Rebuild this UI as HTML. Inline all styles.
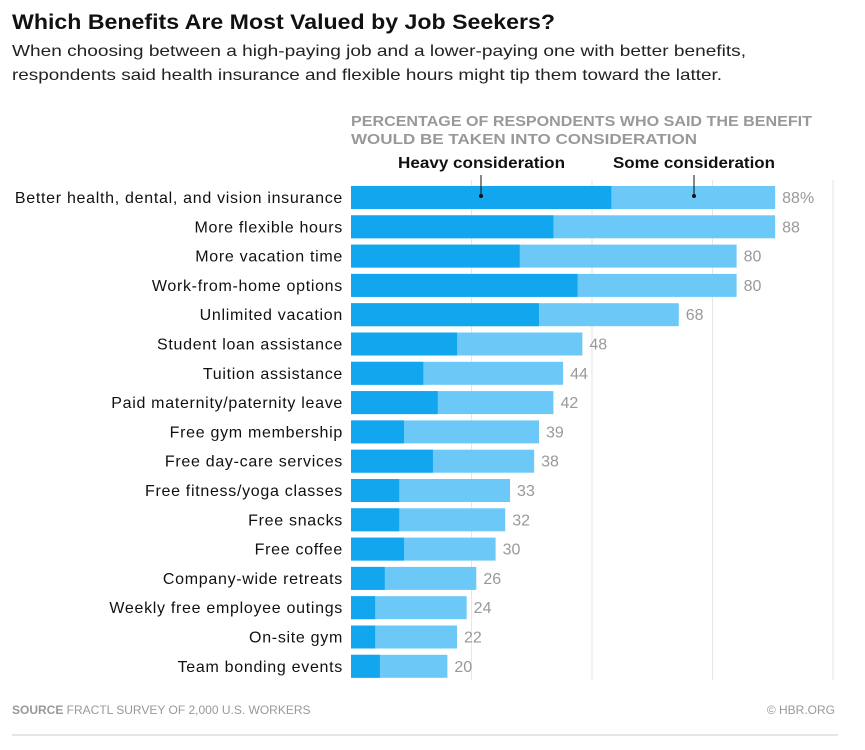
<!DOCTYPE html>
<html><head><meta charset="utf-8"><style>
body{margin:0;background:#fff;width:865px;height:745px;overflow:hidden;font-family:"Liberation Sans",sans-serif}
</style></head><body>
<svg width="865" height="745" id="chart">
<text x="12" y="29" font-size="21" font-weight="bold" fill="#111" textLength="543" lengthAdjust="spacingAndGlyphs">Which Benefits Are Most Valued by Job Seekers?</text>
<text x="12" y="56" font-size="16" fill="#222" textLength="734" lengthAdjust="spacingAndGlyphs">When choosing between a high-paying job and a lower-paying one with better benefits,</text>
<text x="12" y="80" font-size="16" fill="#222" textLength="710" lengthAdjust="spacingAndGlyphs">respondents said health insurance and flexible hours might tip them toward the latter.</text>
<text x="351" y="126" font-size="14.5" font-weight="bold" fill="#999" textLength="461" lengthAdjust="spacingAndGlyphs">PERCENTAGE OF RESPONDENTS WHO SAID THE BENEFIT</text>
<text x="351" y="144" font-size="14.5" font-weight="bold" fill="#999" textLength="346" lengthAdjust="spacingAndGlyphs">WOULD BE TAKEN INTO CONSIDERATION</text>
<text x="398" y="168" font-size="15.5" font-weight="bold" fill="#111" textLength="167" lengthAdjust="spacingAndGlyphs">Heavy consideration</text>
<text x="613" y="168" font-size="15.5" font-weight="bold" fill="#111" textLength="162" lengthAdjust="spacingAndGlyphs">Some consideration</text>
<g id="grid"></g><g id="bars"></g>
<line x1="481" y1="175" x2="481" y2="196" stroke="#111" stroke-width="1"/>
<circle cx="481" cy="196" r="2" fill="#111"/>
<line x1="694" y1="175" x2="694" y2="196" stroke="#111" stroke-width="1"/>
<circle cx="694" cy="196" r="2" fill="#111"/>
<text x="12" y="714" font-size="12" fill="#999"><tspan font-weight="bold">SOURCE</tspan> FRACTL SURVEY OF 2,000 U.S. WORKERS</text>
<text x="835" y="714" font-size="12" fill="#999" text-anchor="end">© HBR.ORG</text>
<line x1="12" y1="735" x2="838" y2="735" stroke="#ccc"/>
</svg>
<script>
const categories=["Better health, dental, and vision insurance","More flexible hours","More vacation time","Work-from-home options","Unlimited vacation","Student loan assistance","Tuition assistance","Paid maternity/paternity leave","Free gym membership","Free day-care services","Free fitness/yoga classes","Free snacks","Free coffee","Company-wide retreats","Weekly free employee outings","On-site gym","Team bonding events"];
const totals=[88,88,80,80,68,48,44,42,39,38,33,32,30,26,24,22,20];
const heavy=[54,42,35,47,39,22,15,18,11,17,10,10,11,7,5,5,6];
const gridTicks=[25,50,75,100];
const NS="http://www.w3.org/2000/svg";
const x=v=>351+v*4.82;
const y=i=>186+i*29.3;
const grid=document.getElementById('grid'),bars=document.getElementById('bars');
function mk(p,tag,a){const e=document.createElementNS(NS,tag);for(const k in a)e.setAttribute(k,a[k]);p.appendChild(e);return e;}
gridTicks.forEach(t=>{const l=mk(grid,'line',{x1:x(t),x2:x(t),y1:180,y2:680,stroke:'#e6e6e6','stroke-width':1});

});
categories.forEach((c,i)=>{
const lab=mk(bars,'text',{x:343,y:y(i)+17,'font-size':16,'letter-spacing':0.7,fill:'#111','text-anchor':'end'});lab.textContent=c;


const s=mk(bars,'rect',{x:x(0),y:y(i),width:x(totals[i])-x(0),height:23,fill:'#6cc8f7'});


const h=mk(bars,'rect',{x:x(0),y:y(i),width:x(heavy[i])-x(0),height:23,fill:'#12a6ef'});


const v=mk(bars,'text',{x:x(totals[i])+7,y:y(i)+17,'font-size':16,fill:'#999'});v.textContent=totals[i]+(i===0?'%':'');


});
</script>
</body></html>
